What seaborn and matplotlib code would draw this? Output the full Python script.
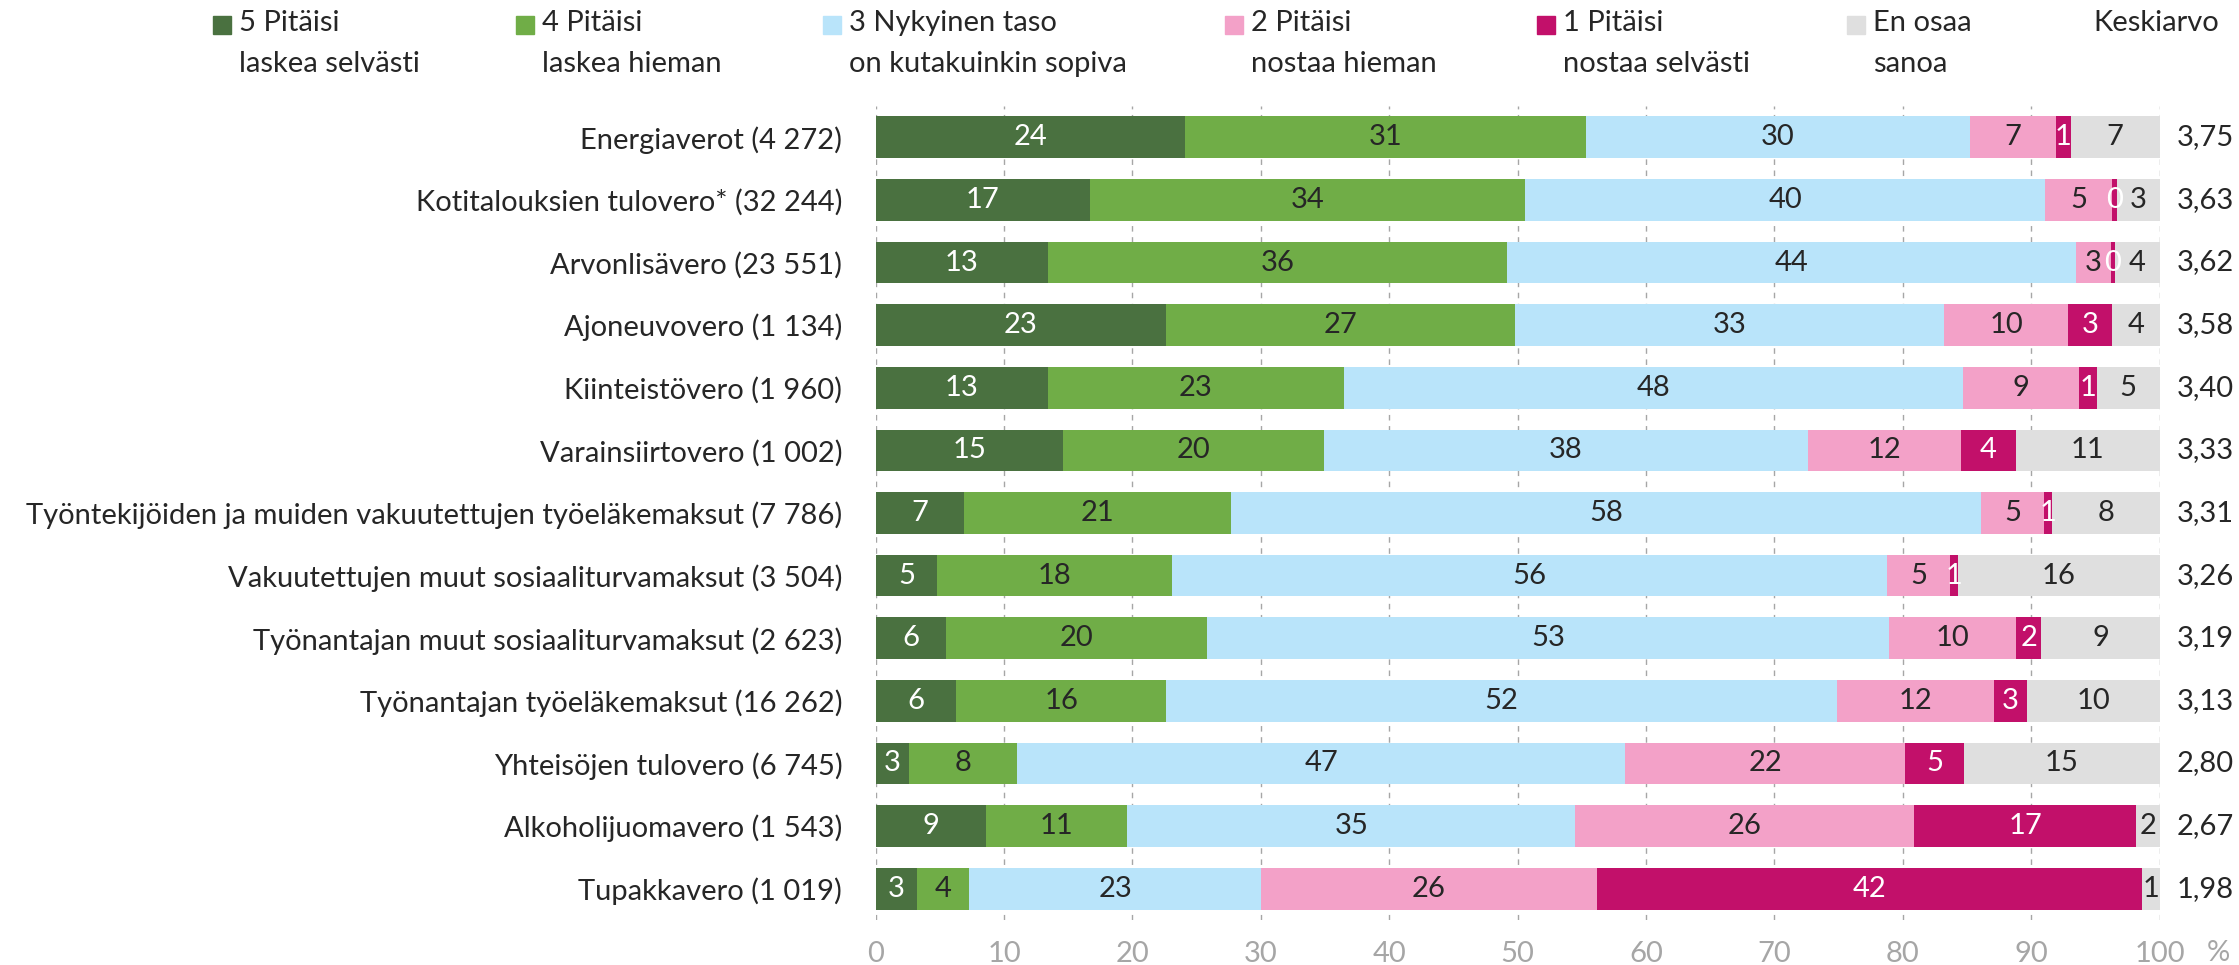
import matplotlib.pyplot as plt
import numpy as np
import pandas as pd
import seaborn as sns
from matplotlib.patches import Rectangle

categories = [
    "Energiaverot (4 272)",
    "Kotitalouksien tulovero* (32 244)",
    "Arvonlisävero (23 551)",
    "Ajoneuvovero (1 134)",
    "Kiinteistövero (1 960)",
    "Varainsiirtovero (1 002)",
    "Työntekijöiden ja muiden vakuutettujen työeläkemaksut (7 786)",
    "Vakuutettujen muut sosiaaliturvamaksut (3 504)",
    "Työnantajan muut sosiaaliturvamaksut (2 623)",
    "Työnantajan työeläkemaksut (16 262)",
    "Yhteisöjen tulovero (6 745)",
    "Alkoholijuomavero (1 543)",
    "Tupakkavero (1 019)",
]
laske_selvasti = [24.1, 16.7, 13.4, 22.6, 13.4, 14.6, 6.9, 4.8, 5.5, 6.3, 2.6, 8.6, 3.2]
laske_hieman = [31.2, 33.9, 35.8, 27.2, 23.1, 20.3, 20.8, 18.3, 20.3, 16.3, 8.4, 11.0, 4.1]
nykyinen = [29.9, 40.5, 44.3, 33.4, 48.2, 37.7, 58.4, 55.7, 53.1, 52.3, 47.4, 34.9, 22.7]
nostaa_hieman = [6.7, 5.2, 2.7, 9.7, 9.0, 11.9, 4.9, 4.9, 9.9, 12.2, 21.8, 26.4, 26.2]
nostaa_selvasti = [1.2, 0.4, 0.3, 3.4, 1.4, 4.3, 0.6, 0.6, 2.0, 2.6, 4.6, 17.3, 42.4]
en_osaa = [6.9, 3.3, 3.5, 3.7, 4.9, 11.2, 8.4, 15.7, 9.2, 10.3, 15.2, 1.8, 1.4]
keskiarvo = ["3,75", "3,63", "3,62", "3,58", "3,40", "3,33", "3,31", "3,26", "3,19", "3,13", "2,80", "2,67", "1,98"]

series_names = [
    "5 Pitäisi\nlaskea selvästi",
    "4 Pitäisi\nlaskea hieman",
    "3 Nykyinen taso\non kutakuinkin sopiva",
    "2 Pitäisi\nnostaa hieman",
    "1 Pitäisi\nnostaa selvästi",
    "En osaa\nsanoa",
]
colors = ["#4a7140", "#70ad47", "#b9e4fa", "#f3a1c8", "#c2106a", "#dfdfdf"]
label_colors = ["white", "#262626", "#262626", "#262626", "white", "#262626"]

sns.set_style("white")
plt.rcParams["font.family"] = ["Lato", "DejaVu Sans"]
text_color = "#262626"
fs = 21

data = pd.DataFrame(
    np.array([laske_selvasti, laske_hieman, nykyinen, nostaa_hieman, nostaa_selvasti, en_osaa]).T,
    columns=series_names,
)
data["Kategoria"] = categories
cum = data[series_names].cumsum(axis=1)

W, H = 2239, 965
fig = plt.figure(figsize=(W / 100, H / 100), dpi=100)
ax = fig.add_axes([875.6 / W, 1 - 920 / H, (2159.6 - 875.6) / W, (920 - 106) / H])

# stacked bars: draw cumulative totals from the last series back to the first
for i in range(len(series_names) - 1, -1, -1):
    sns.barplot(
        x=cum[series_names[i]],
        y=data["Kategoria"],
        orient="h",
        color=colors[i],
        saturation=1,
        width=0.665,
        linewidth=0,
        ax=ax,
    )

for i, name in enumerate(series_names):
    left = cum[name] - data[name]
    for j, v in enumerate(data[name]):
        ax.text(left[j] + v / 2, j, f"{v:.0f}", ha="center", va="center",
                fontsize=fs, color=label_colors[i])

for j, k in enumerate(keskiarvo):
    ax.text(101.3, j, k, ha="left", va="center", fontsize=fs, color=text_color, clip_on=False)

ax.set_xlim(0, 100)
ax.set_ylim(12.5, -0.5)
ax.set_xticks(range(0, 101, 10))
ax.set_axisbelow(True)
ax.xaxis.grid(True, linestyle=(0, (4, 4)), color="#a6a6a6", linewidth=1)
ax.yaxis.grid(False)
for s in ax.spines.values():
    s.set_visible(False)
ax.set_xlabel("")
ax.set_ylabel("")
ax.tick_params(axis="x", length=0, pad=15, labelsize=fs, labelcolor="#a6a6a6")
ax.tick_params(axis="y", length=0, pad=24, labelsize=fs, labelcolor=text_color)
fig.text(2218 / W, 1 - 953 / H, "%", ha="center", va="center", fontsize=fs, color="#a6a6a6")

# legend row
legend_x = [213, 516, 823, 1225, 1537, 1847]
for lx, name, c in zip(legend_x, series_names, colors):
    fig.patches.append(Rectangle((lx / W, 1 - 34 / H), 18 / W, 18 / H,
                                 transform=fig.transFigure, color=c))
    fig.text((lx + 26) / W, 1 - 10 / H, name, ha="left", va="top", fontsize=fs,
             color=text_color, linespacing=1.7)
fig.text(2093 / W, 1 - 10 / H, "Keskiarvo", ha="left", va="top", fontsize=fs, color=text_color)

fig.savefig("out.png", dpi=100)
